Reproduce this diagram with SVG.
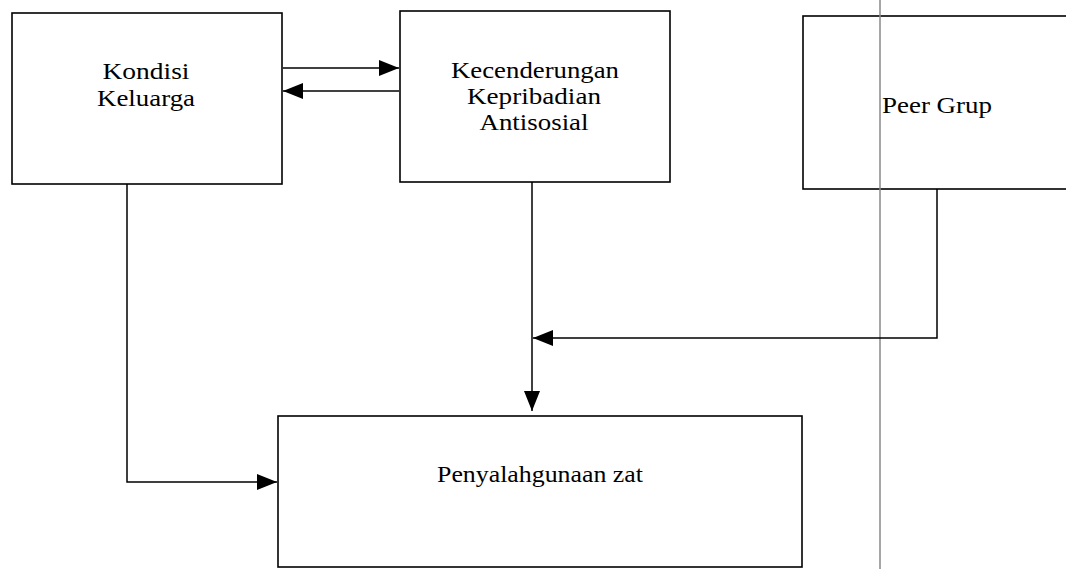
<svg xmlns="http://www.w3.org/2000/svg" width="1066" height="569" viewBox="0 0 1066 569">
<defs>
<style>
.box{fill:#fff;stroke:#000;stroke-width:1.6}
.lbl{font-family:"Liberation Serif","Times New Roman",serif;font-size:23px;fill:#000;text-anchor:middle}
.con{fill:none;stroke:#000;stroke-width:1.5}
</style>
<marker id="ah" viewBox="0 0 20 16" refX="20" refY="8" markerWidth="20" markerHeight="16" markerUnits="userSpaceOnUse" orient="auto">
<path d="M0,0 L20,8 L0,16 Z" fill="#000"/>
</marker>
</defs>
<rect width="1066" height="569" fill="#fff"/>
<g id="kondisi-keluarga">
<rect class="box" x="12" y="13" width="270" height="171"/>
<text class="lbl" x="146" y="79" textLength="87" lengthAdjust="spacingAndGlyphs">Kondisi</text>
<text class="lbl" x="146" y="106" textLength="98" lengthAdjust="spacingAndGlyphs">Keluarga</text>
</g>
<g id="kecenderungan">
<rect class="box" x="400" y="11" width="270" height="171"/>
<text class="lbl" x="535" y="78" textLength="168" lengthAdjust="spacingAndGlyphs">Kecenderungan</text>
<text class="lbl" x="534" y="104" textLength="134" lengthAdjust="spacingAndGlyphs">Kepribadian</text>
<text class="lbl" x="534" y="130" textLength="109" lengthAdjust="spacingAndGlyphs">Antisosial</text>
</g>
<g id="peer-grup">
<rect class="box" x="803" y="16" width="300" height="173"/>
<text class="lbl" x="882" y="113" style="text-anchor:start" textLength="110" lengthAdjust="spacingAndGlyphs">Peer Grup</text>
</g>
<g id="penyalahgunaan">
<rect class="box" x="278" y="416" width="524" height="151"/>
<text class="lbl" x="540" y="482" textLength="206" lengthAdjust="spacingAndGlyphs">Penyalahgunaan zat</text>
</g>
<line x1="880" y1="0" x2="880" y2="569" stroke="#888" stroke-width="1.5"/>
<g id="connectors">
<line class="con" x1="283" y1="68" x2="399" y2="68" marker-end="url(#ah)"/>
<line class="con" x1="399" y1="91" x2="283" y2="91" marker-end="url(#ah)"/>
<polyline class="con" points="127,184 127,482 277,482" marker-end="url(#ah)"/>
<line class="con" x1="532" y1="182" x2="532" y2="411" marker-end="url(#ah)"/>
<polyline class="con" points="937,189 937,338 533,338" marker-end="url(#ah)"/>
</g>
</svg>
